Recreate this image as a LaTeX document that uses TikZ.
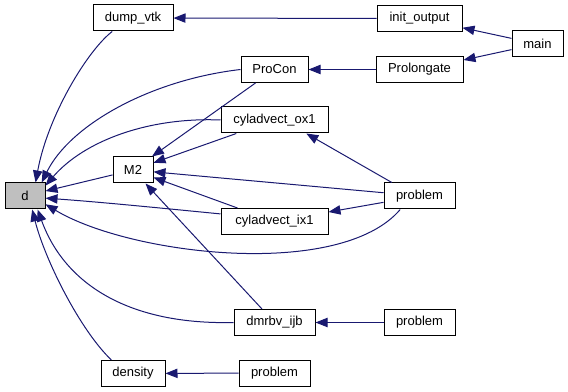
\documentclass[tikz,border=0pt]{standalone}
\usepackage{fontspec}
\setmainfont{Liberation Sans}
\usetikzlibrary{arrows.meta}
\definecolor{edgeblue}{RGB}{25,25,112}
\definecolor{focusgray}{RGB}{191,191,191}
\begin{document}
\begin{tikzpicture}[x=0.75pt,y=-0.75pt,
  fn/.style={draw=black, line width=0.75pt, fill=white, minimum height=19.5pt,
             inner sep=0pt, font=\fontsize{9.75}{11}\selectfont},
  call/.style={draw=edgeblue, line width=0.75pt,
               -{Triangle[length=9pt,width=7pt,fill=edgeblue]}},
]
\useasboundingbox (0,0) rectangle (568,392);

% functions
\node[fn, minimum width=30pt, fill=focusgray] (d) at (25,196) {d};
\node[fn, minimum width=30pt]    (M2)        at (133,170)   {M2};
\node[fn, minimum width=60pt]    (dumpvtk)   at (133,18)    {dump\_vtk};
\node[fn, minimum width=63.75pt] (initout)   at (419.5,18.5){init\_output};
\node[fn, minimum width=38.25pt] (main)      at (537.5,44)  {main};
\node[fn, minimum width=65.25pt] (prolong)   at (419.5,69.5){Prolongate};
\node[fn, minimum width=50.25pt] (procon)    at (274.5,69.5){ProCon};
\node[fn, minimum width=80.25pt] (cylox)     at (274.5,120) {cyladvect\_ox1};
\node[fn, minimum width=80.25pt] (cylix)     at (274.5,221.5){cyladvect\_ix1};
\node[fn, minimum width=53.25pt] (probA)     at (419.5,196) {problem};
\node[fn, minimum width=60.75pt] (dmrbv)     at (274.5,322.5){dmrbv\_ijb};
\node[fn, minimum width=53.25pt] (probB)     at (419.5,322.5){problem};
\node[fn, minimum width=48pt]    (density)   at (133,373.5) {density};
\node[fn, minimum width=53.25pt] (probC)     at (274.5,373) {problem};

% straight calls
\draw[call] (initout) -- (dumpvtk);
\draw[call] (main) -- (initout);
\draw[call] (main) -- (prolong);
\draw[call] (prolong) -- (procon);
\draw[call] (procon) -- (M2);
\draw[call] (cylox) -- (M2);
\draw[call] (probA) -- (M2);
\draw[call] (cylix) -- (M2);
\draw[call] (dmrbv) -- (M2);
\draw[call] (M2) -- (d);
\draw[call] (probA.154) -- (cylox.-23);
\draw[call] (probA) -- (cylix);
\draw[call] (probB) -- (dmrbv);
\draw[call] (probC) -- (density);

% curved calls into d
\draw[call] (dumpvtk.-147) .. controls (88,50) and (48,115) .. (d.52);
\draw[call] (procon.west) .. controls (150,80) and (70,125) .. (d.39);
\draw[call] (cylox.west) .. controls (150,117) and (85,140) .. (d.27);
\draw[call] (cylix.172) .. controls (160,208) and (100,202) .. (d.-6);
\draw[call] (probA.-145) .. controls (340,280) and (130,255) .. (d.-22);
\draw[call] (dmrbv.west) .. controls (130,325) and (65,285) .. (d.-47);
\draw[call] (density.148) .. controls (80,330) and (45,260) .. (d.-62);
\end{tikzpicture}
\end{document}
